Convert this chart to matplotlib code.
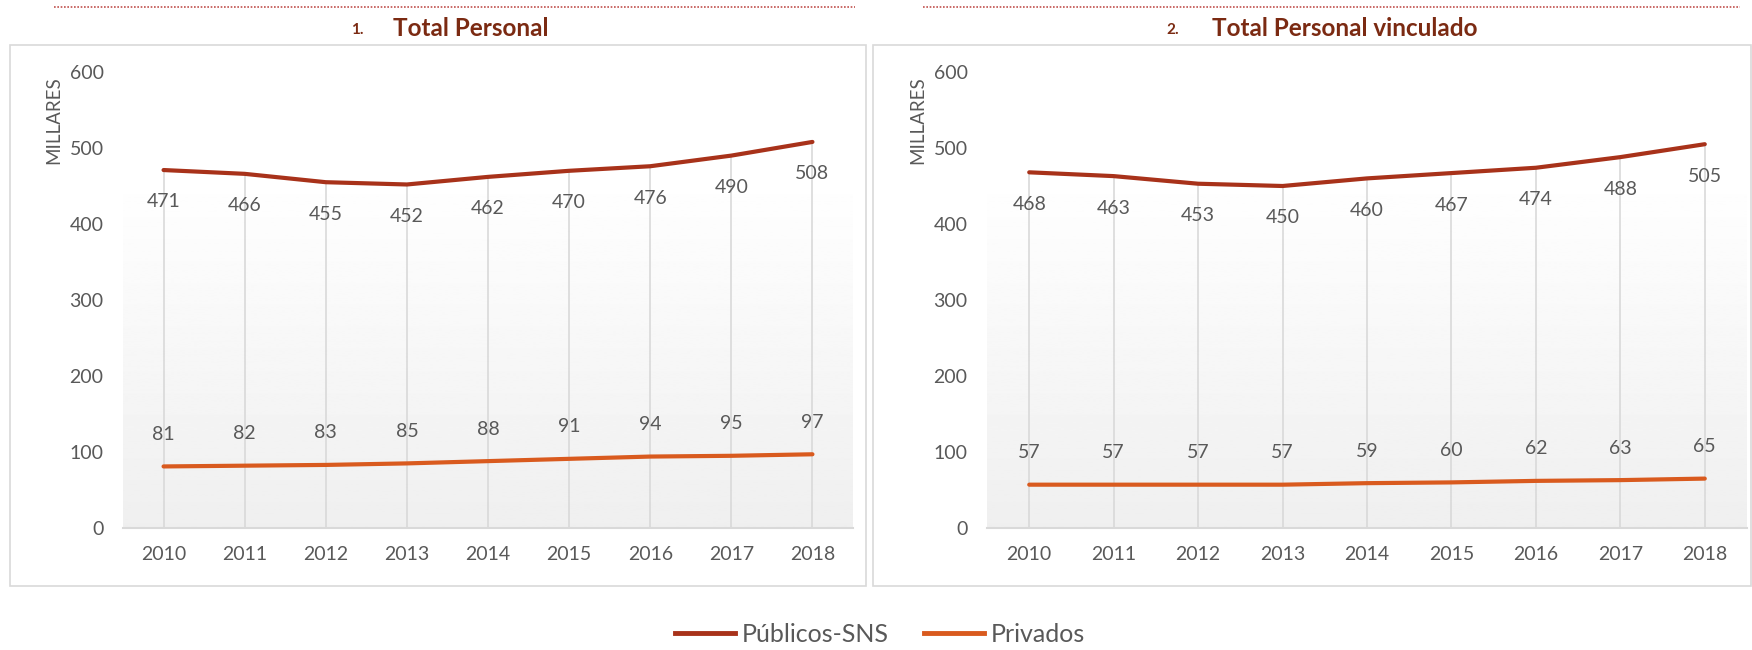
import matplotlib.pyplot as plt
import matplotlib.patches as patches
from matplotlib.lines import Line2D
import numpy as np

plt.rcParams['font.family'] = ['Lato', 'DejaVu Sans']

years = ['2010', '2011', '2012', '2013', '2014', '2015', '2016', '2017', '2018']

# chart 1: Total Personal (millares)
pub_total = [471, 466, 455, 452, 462, 470, 476, 490, 508]
priv_total = [81, 82, 83, 85, 88, 91, 94, 95, 97]

# chart 2: Total Personal vinculado (millares)
pub_vinc = [468, 463, 453, 450, 460, 467, 474, 488, 505]
priv_vinc = [57, 57, 57, 57, 59, 60, 62, 63, 65]

c_pub = '#a8321a'
c_priv = '#d95a1e'
c_text = '#595959'
c_grid = '#d9d9d9'
c_title = '#7b2a12'

W, H = 1752, 650
fig = plt.figure(figsize=(W / 100, H / 100), dpi=100)


def px_rect(l, r, t, b):
    return [l / W, 1 - b / H, (r - l) / W, (b - t) / H]


def draw_chart(ax, pub, priv):
    x = np.arange(len(years))
    # gradient background of the plot area
    grad = np.linspace(1.0, 0.937, 256).reshape(-1, 1)
    ax.imshow(grad, cmap='gray', vmin=0, vmax=1, aspect='auto',
              extent=(-0.5, len(years) - 0.5, 0, 467), zorder=0)
    # drop lines
    ax.vlines(x, 0, pub, color=c_grid, lw=1.2, zorder=1)
    ax.plot(x, pub, color=c_pub, lw=3, solid_capstyle='round', zorder=3)
    ax.plot(x, priv, color=c_priv, lw=3, solid_capstyle='round', zorder=3)
    for xi, v in zip(x, pub):
        ax.annotate(str(v), (xi, v), xytext=(0, -23), textcoords='offset points',
                    ha='center', va='center', fontsize=14, color=c_text, zorder=4)
    for xi, v in zip(x, priv):
        ax.annotate(str(v), (xi, v), xytext=(0, 23), textcoords='offset points',
                    ha='center', va='center', fontsize=14, color=c_text, zorder=4)
    ax.set_xlim(-0.5, len(years) - 0.5)
    ax.set_ylim(0, 600)
    ax.set_xticks(x)
    ax.set_xticklabels(years)
    ax.set_yticks(range(0, 601, 100))
    ax.tick_params(axis='both', length=0, labelsize=14, colors=c_text)
    ax.tick_params(axis='y', pad=14)
    ax.tick_params(axis='x', pad=13)
    for s in ['top', 'right', 'left']:
        ax.spines[s].set_visible(False)
    ax.spines['bottom'].set_color(c_grid)
    ax.spines['bottom'].set_linewidth(1.5)
    ax.set_facecolor('none')


ax1 = fig.add_axes(px_rect(123, 853, 72, 528))
ax2 = fig.add_axes(px_rect(987, 1747, 72, 528))
draw_chart(ax1, pub_total, priv_total)
draw_chart(ax2, pub_vinc, priv_vinc)

# chart frames
for l, r in [(10, 866), (873, 1751)]:
    fig.patches.append(patches.Rectangle((l / W, 1 - 586 / H), (r - l) / W, (586 - 45) / H,
                                         transform=fig.transFigure, fill=False,
                                         edgecolor=c_grid, lw=1.2, zorder=0))

# dotted rules above titles
for l, r in [(54, 855), (923, 1740)]:
    fig.add_artist(Line2D([l / W, r / W], [1 - 7 / H, 1 - 7 / H], transform=fig.transFigure,
                          color='#c0504d', lw=1.2, ls=(0, (1, 1))))

# titles
fig.text(357 / W, 1 - 30 / H, '1.', fontsize=11, fontweight='bold', color=c_title,
         ha='center', va='center')
fig.text(393 / W, 1 - 29 / H, 'Total Personal', fontsize=17.5, fontweight='bold',
         color=c_title, ha='left', va='center')
fig.text(1173 / W, 1 - 30 / H, '2.', fontsize=11, fontweight='bold', color=c_title,
         ha='center', va='center')
fig.text(1212 / W, 1 - 29 / H, 'Total Personal vinculado', fontsize=17.5, fontweight='bold',
         color=c_title, ha='left', va='center')

# y labels
for xl in [54, 918]:
    fig.text(xl / W, 1 - 120 / H, 'MILLARES', rotation=90, fontsize=13.5, color=c_text,
             ha='center', va='center')

handles = [Line2D([], [], color=c_pub, lw=3.5), Line2D([], [], color=c_priv, lw=3.5)]
fig.legend(handles, ['Públicos-SNS', 'Privados'], loc='center', ncol=2,
           bbox_to_anchor=(880 / W, 1 - 634 / H), frameon=False, fontsize=18,
           handlelength=2.4, handletextpad=0.28, columnspacing=1.4, labelcolor=c_text,
           borderpad=0)

fig.savefig('out.png', dpi=100)
